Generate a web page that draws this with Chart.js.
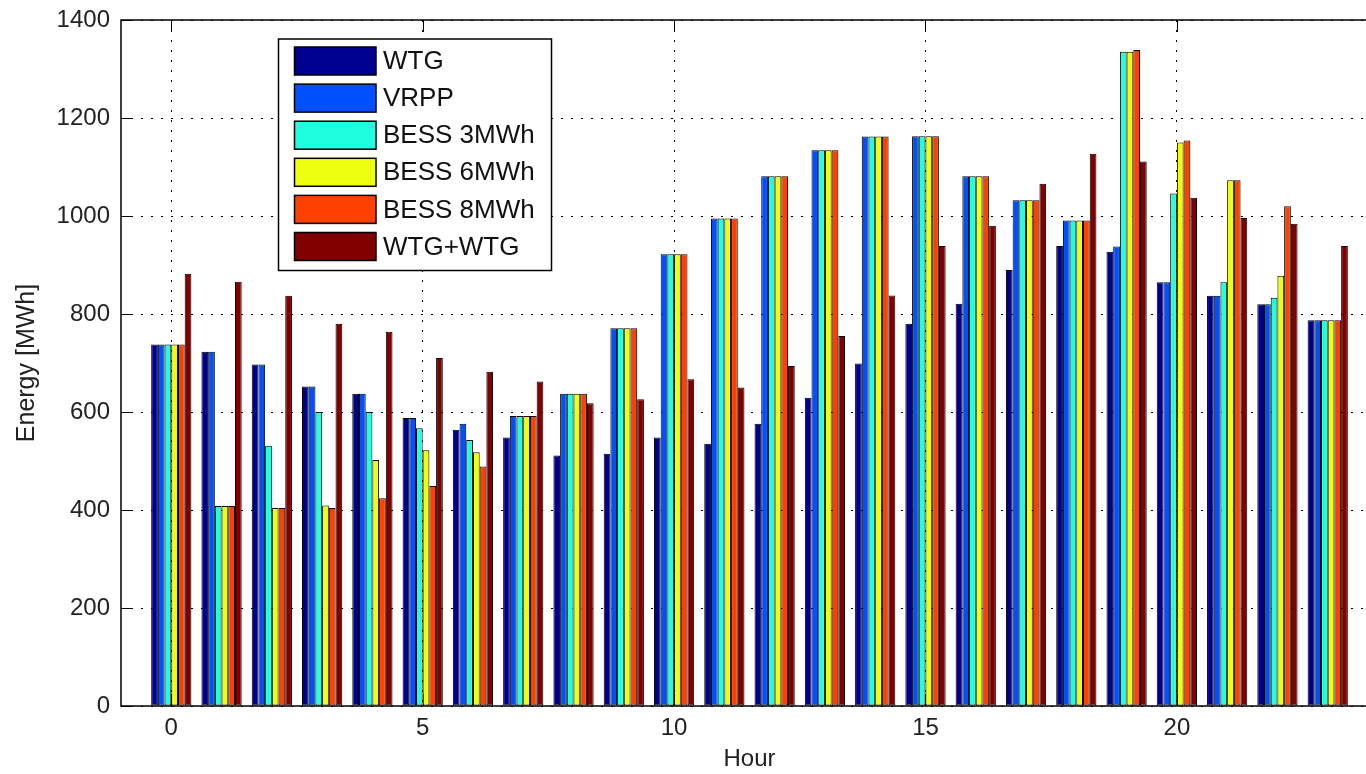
<!DOCTYPE html>
<html>
<head>
    <title>Hourly Energy Bar Chart</title>
    <script src="https://cdn.jsdelivr.net/npm/chart.js"></script>
</head>
<body style="margin: 0; background-color: #ffffff; overflow: hidden;">
    <div style="width: 1400px; height: 774px; position: relative;">
        <canvas id="myChart"></canvas>
    </div>

    <script>
        // Data (MWh per hour)
        var hours = [0, 1, 2, 3, 4, 5, 6, 7, 8, 9, 10, 11, 12, 13, 14, 15, 16, 17, 18, 19, 20, 21, 22, 23];
        var wtg     = [738, 723, 697, 652, 637, 588, 564, 548, 511, 515, 548, 535, 576, 629, 699, 780, 821, 890, 939, 927, 865, 837, 820, 787];
        var vrpp    = [738, 723, 697, 652, 637, 588, 576, 592, 637, 771, 922, 995, 1081, 1134, 1162, 1163, 1081, 1032, 991, 938, 865, 837, 820, 787];
        var bess3   = [738, 408, 531, 600, 600, 567, 543, 592, 637, 771, 922, 995, 1081, 1134, 1162, 1163, 1081, 1032, 991, 1335, 1046, 865, 833, 787];
        var bess6   = [738, 408, 404, 409, 502, 522, 518, 592, 637, 771, 922, 995, 1081, 1134, 1162, 1163, 1081, 1032, 991, 1335, 1150, 1073, 878, 787];
        var bess8   = [738, 408, 404, 404, 424, 449, 489, 592, 637, 771, 922, 995, 1081, 1134, 1162, 1163, 1081, 1032, 991, 1339, 1154, 1073, 1020, 787];
        var wtgWtg  = [882, 866, 837, 780, 764, 710, 682, 662, 618, 626, 667, 650, 694, 755, 838, 939, 980, 1066, 1127, 1111, 1037, 996, 984, 939];

        var xTicks = [0, 5, 10, 15, 20];
        var yTicks = [0, 200, 400, 600, 800, 1000, 1200, 1400];

        var fontFamily = "'Liberation Sans', Arial, sans-serif";
        Chart.defaults.font.family = fontFamily;
        Chart.defaults.color = '#222222';

        function makeSet(label, values, color) {
            return {
                label: label,
                data: values,
                backgroundColor: color,
                borderColor: '#000000',
                borderWidth: 1,
                borderSkipped: false,
                categoryPercentage: 0.8,
                barPercentage: 1.0
            };
        }

        // MATLAB style inward ticks and box
        var axisBox = {
            id: 'axisBox',
            beforeDatasetsDraw: function (chart) {
                var ctx = chart.ctx, a = chart.chartArea;
                var xs = chart.scales.x, ys = chart.scales.y;
                ctx.save();
                ctx.strokeStyle = '#000000';
                ctx.lineWidth = 1;
                ctx.beginPath();
                yTicks.forEach(function (v) {
                    var py = Math.round(ys.getPixelForValue(v)) + 0.5;
                    ctx.moveTo(a.left, py); ctx.lineTo(a.left + 12, py);
                    ctx.moveTo(a.right, py); ctx.lineTo(a.right - 12, py);
                });
                xTicks.forEach(function (v) {
                    var px = Math.round(xs.getPixelForValue(v)) + 0.5;
                    ctx.moveTo(px, a.top); ctx.lineTo(px, a.top + 12);
                    ctx.moveTo(px, a.bottom); ctx.lineTo(px, a.bottom - 12);
                });
                ctx.stroke();
                ctx.restore();
            },
            afterDatasetsDraw: function (chart) {
                var ctx = chart.ctx, a = chart.chartArea;
                ctx.save();
                ctx.strokeStyle = '#000000';
                ctx.lineWidth = 1.5;
                ctx.strokeRect(a.left, a.top, a.right - a.left, a.bottom - a.top);
                ctx.restore();
            }
        };

        // legend box in the upper left of the plot
        var boxLegend = {
            id: 'boxLegend',
            afterDraw: function (chart) {
                var ctx = chart.ctx;
                var sets = chart.data.datasets;
                ctx.save();
                ctx.fillStyle = '#ffffff';
                ctx.fillRect(278.5, 39, 273, 231.5);
                ctx.strokeStyle = '#000000';
                ctx.lineWidth = 1.5;
                ctx.strokeRect(278.5, 39, 273, 231.5);
                ctx.font = '26px ' + fontFamily;
                ctx.textBaseline = 'middle';
                ctx.textAlign = 'left';
                sets.forEach(function (ds, i) {
                    var top = 47 + i * 37.1;
                    ctx.fillStyle = ds.backgroundColor;
                    ctx.fillRect(294.5, top, 81.5, 28);
                    ctx.lineWidth = 1.5;
                    ctx.strokeStyle = '#000000';
                    ctx.strokeRect(294.5, top, 81.5, 28);
                    ctx.fillStyle = '#111111';
                    ctx.fillText(ds.label, 383, top + 15);
                });
                ctx.restore();
            }
        };

        var ctx = document.getElementById('myChart').getContext('2d');
        var myChart = new Chart(ctx, {
            type: 'bar',
            data: {
                labels: hours,
                datasets: [
                    makeSet('WTG', wtg, '#00008F'),
                    makeSet('VRPP', vrpp, '#0050FF'),
                    makeSet('BESS 3MWh', bess3, '#20FFDF'),
                    makeSet('BESS 6MWh', bess6, '#EFFF10'),
                    makeSet('BESS 8MWh', bess8, '#FF4000'),
                    makeSet('WTG+WTG', wtgWtg, '#800000')
                ]
            },
            options: {
                responsive: true,
                maintainAspectRatio: false,
                animation: false,
                layout: { padding: { top: 20, right: 22, bottom: 0, left: 0 } },
                scales: {
                    x: {
                        type: 'linear',
                        min: -1,
                        max: 24,
                        offset: false,
                        afterBuildTicks: function (s) {
                            s.ticks = xTicks.map(function (v) { return { value: v }; });
                        },
                        afterFit: function (s) {
                            s.height = 68;
                            s.paddingLeft = 0; s.paddingRight = 0;
                        },
                        grid: { color: '#000000', lineWidth: 1, drawTicks: false, offset: false },
                        border: { display: false, dash: [2, 8] },
                        ticks: { padding: 8, font: { size: 24 }, maxRotation: 0, autoSkip: false },
                        title: { display: true, text: 'Hour', font: { size: 24 }, padding: { top: 0, bottom: 0 } }
                    },
                    y: {
                        min: 0,
                        max: 1400,
                        afterFit: function (s) {
                            s.width = 121;
                            s.paddingTop = 0; s.paddingBottom = 0;
                        },
                        grid: { color: '#000000', lineWidth: 1, drawTicks: false },
                        border: { display: false, dash: [2, 8] },
                        ticks: {
                            stepSize: 200, padding: 11, font: { size: 24 },
                            callback: function (v) { return String(v); }
                        },
                        title: { display: true, text: 'Energy [MWh]', font: { size: 25 }, padding: { top: 12, bottom: 0 } }
                    }
                },
                plugins: {
                    legend: { display: false },
                    tooltip: { enabled: false }
                }
            },
            plugins: [axisBox, boxLegend]
        });
    </script>
</body>
</html>
